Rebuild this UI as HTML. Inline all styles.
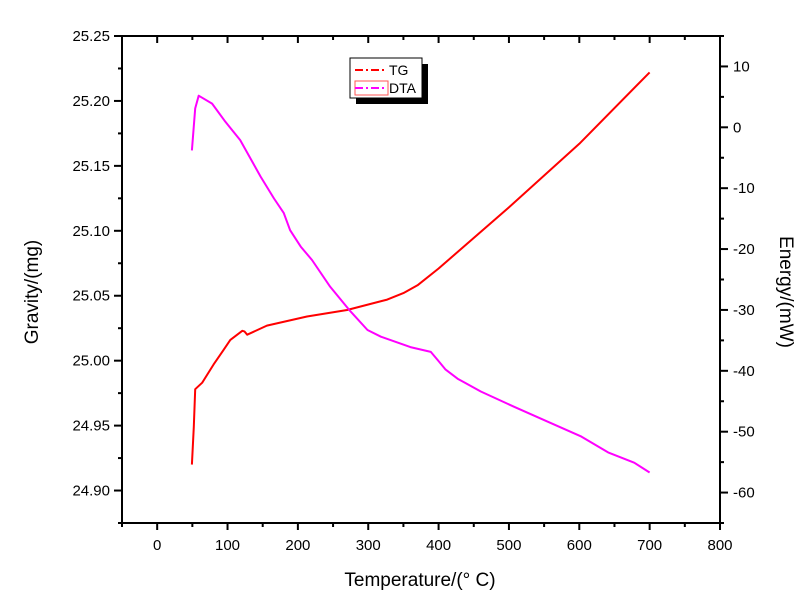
<!DOCTYPE html>
<html><head><meta charset="utf-8"><style>
body{margin:0;background:#fff}
svg{display:block;font-family:"Liberation Sans",Arial,sans-serif}
</style></head><body>
<svg id="chart" width="800" height="615" viewBox="0 0 800 615" xmlns="http://www.w3.org/2000/svg">
<g id="axes"></g>
<g id="series"></g>
<text x="0" y="0" transform="translate(38,292) rotate(-90)" text-anchor="middle" font-size="19">Gravity/(mg)</text>
<text x="0" y="0" transform="translate(780,292) rotate(90)" text-anchor="middle" font-size="19">Energy/(mW)</text>
<text x="420" y="586" text-anchor="middle" font-size="19">Temperature/(° C)</text>
<g>
<rect x="356" y="64" width="72" height="40" fill="#000"/>
<rect x="350" y="58" width="72" height="40" fill="#fff" stroke="#000" stroke-width="1"/>
<line x1="355" y1="70" x2="387" y2="70" stroke="#f00" stroke-width="2" stroke-dasharray="8,3,2,3"/>
<text x="389" y="75" font-size="14">TG</text>
<rect x="355" y="81" width="33" height="14" fill="none" stroke="#f55" stroke-width="1"/>
<line x1="355" y1="88" x2="387" y2="88" stroke="#f0f" stroke-width="2" stroke-dasharray="8,3,2,3"/>
<text x="389" y="93" font-size="14">DTA</text>
</g>
</svg>
<script>
const xTicks=[0,100,200,300,400,500,600,700,800];
const yLeftTicks=[24.90,24.95,25.00,25.05,25.10,25.15,25.20,25.25];
const yRightTicks=[-60,-50,-40,-30,-20,-10,0,10];
const tgTemp=[49.4,52,54,64,80,94,104,121,124,128,156,213,270,327,350,370,400,500,600,700];
const tgMass=[24.920,24.949,24.978,24.983,24.997,25.008,25.016,25.023,25.0225,25.020,25.027,25.034,25.039,25.047,25.052,25.058,25.071,25.118,25.167,25.222];
const dtaTemp=[49.4,54,59,78,97,118,147,166,180,189,204,220,246,273,299,318,360,389,400,410,427,460,507,556,603,641,678,700];
const dtaEnergy=[-3.8,3.1,5.2,3.9,0.9,-2.1,-8.1,-11.7,-14.1,-16.9,-19.6,-21.8,-26.2,-30,-33.3,-34.4,-36.1,-36.9,-38.4,-39.8,-41.3,-43.4,-45.9,-48.4,-50.8,-53.4,-55.1,-56.7];

const NS="http://www.w3.org/2000/svg";
const L=122,R=720,T=36,B=523;
const xMin=-50,xMax=800,ylMin=24.875,ylMax=25.25,yrMin=-65,yrMax=15;
const X=v=>L+(v-xMin)/(xMax-xMin)*(R-L);
const YL=v=>B-(v-ylMin)/(ylMax-ylMin)*(B-T);
const YR=v=>B-(v-yrMin)/(yrMax-yrMin)*(B-T);
function mk(tag,attrs,parent){const e=document.createElementNS(NS,tag);for(const k in attrs)e.setAttribute(k,attrs[k]);parent.appendChild(e);return e;}
const ax=document.getElementById('axes');
let f=mk('rect',{x:L,y:T,width:R-L,height:B-T,fill:'none',stroke:'#000','stroke-width':2},ax);


for(let v=-50;v<=800;v+=50){
  const major=v%100===0;const x=X(v);
  mk('line',{x1:x,y1:B,x2:x,y2:B+(major?7:4),stroke:'#000','stroke-width':2},ax);
  mk('line',{x1:x,y1:T,x2:x,y2:T+(major?7:4),stroke:'#000','stroke-width':2},ax);
}
xTicks.forEach(v=>{const t=mk('text',{x:X(v),y:B+27,'text-anchor':'middle','font-size':15},ax);t.textContent=v;

});
for(let i=0;i<=15;i++){
  const v=24.875+i*0.025;const y=YL(v);const major=i%2===1;
  mk('line',{x1:L,y1:y,x2:L-(major?8:4),y2:y,stroke:'#000','stroke-width':2},ax);
}
yLeftTicks.forEach(v=>{const t=mk('text',{x:L-12,y:YL(v)+5,'text-anchor':'end','font-size':15},ax);t.textContent=v.toFixed(2);

});
for(let v=-65;v<=15;v+=5){
  const y=YR(v);const major=v%10===0;
  mk('line',{x1:R,y1:y,x2:R+(major?8:4),y2:y,stroke:'#000','stroke-width':2},ax);
}
yRightTicks.forEach(v=>{const t=mk('text',{x:R+13,y:YR(v)+5,'text-anchor':'start','font-size':15},ax);t.textContent=v;

});
const sg=document.getElementById('series');
let p=mk('polyline',{points:tgTemp.map((t,i)=>X(t).toFixed(1)+','+YL(tgMass[i]).toFixed(1)).join(' '),fill:'none',stroke:'#f00','stroke-width':2,'stroke-linejoin':'round'},sg);


let q=mk('polyline',{points:dtaTemp.map((t,i)=>X(t).toFixed(1)+','+YR(dtaEnergy[i]).toFixed(1)).join(' '),fill:'none',stroke:'#f0f','stroke-width':2,'stroke-linejoin':'round'},sg);


</script>
</body></html>
